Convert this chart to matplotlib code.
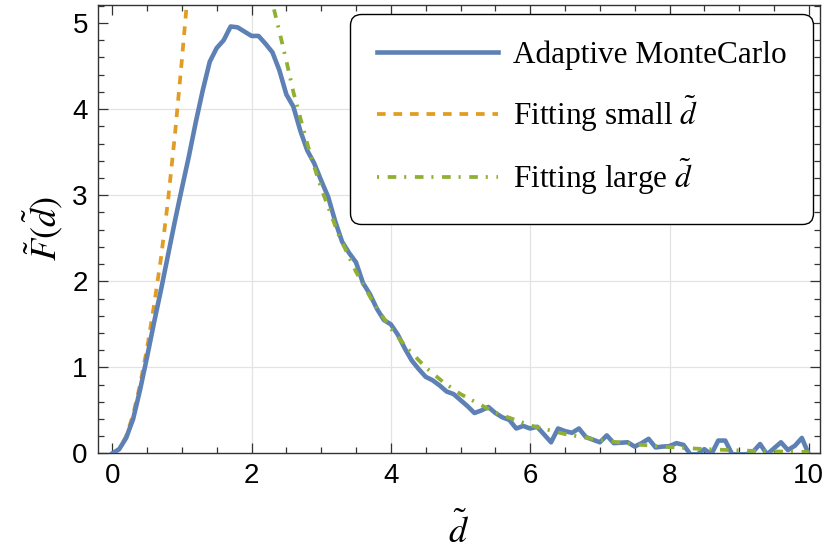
import matplotlib

matplotlib.use("Agg")
import matplotlib.pyplot as plt
from matplotlib.ticker import MultipleLocator

# ── Data ──────────────────────────────────────────────────────────────────────

MC_X = [i / 10 for i in range(101)]
MC_Y = [
    0.00, 0.05, 0.18, 0.40, 0.74, 1.12, 1.52, 1.90, 2.30, 2.70,   # 0.0 - 0.9
    3.08, 3.45, 3.85, 4.22, 4.55, 4.71, 4.80, 4.96, 4.95, 4.90,   # 1.0 - 1.9
    4.85, 4.85, 4.76, 4.66, 4.45, 4.17, 4.03, 3.75, 3.52, 3.37,   # 2.0 - 2.9
    3.17, 2.98, 2.70, 2.46, 2.33, 2.22, 1.98, 1.85, 1.68, 1.55,   # 3.0 - 3.9
    1.50, 1.38, 1.22, 1.08, 0.98, 0.89, 0.85, 0.79, 0.72, 0.69,   # 4.0 - 4.9
    0.62, 0.55, 0.47, 0.50, 0.54, 0.47, 0.42, 0.39, 0.29, 0.32,   # 5.0 - 5.9
    0.29, 0.31, 0.22, 0.13, 0.29, 0.26, 0.24, 0.29, 0.19, 0.16,   # 6.0 - 6.9
    0.13, 0.21, 0.12, 0.125, 0.13, 0.08, 0.12, 0.17, 0.07, 0.08,  # 7.0 - 7.9
    0.085, 0.12, 0.10, -0.01, -0.01, 0.05, -0.01, 0.15, 0.15, -0.01,  # 8.0 - 8.9
    -0.01, -0.01, 0.02, 0.11, -0.01, 0.06, 0.13, 0.04, 0.09, 0.18,    # 9.0 - 9.9
    -0.01,                                                        # 10.0
]

SMALL_X = [0.0, 0.1, 0.2, 0.3, 0.4, 0.5, 0.6, 0.7, 0.8, 0.9, 1.0, 1.1]
SMALL_Y = [0.0, 0.05, 0.20, 0.45, 0.80, 1.22, 1.72, 2.27, 2.93, 3.70, 4.57, 5.50]

LARGE_X = [2.25, 2.4, 2.5, 2.6, 2.7, 2.8, 2.9, 3.0, 3.25, 3.5, 3.75, 4.0, 4.25,
           4.5, 4.75, 5.0, 5.5, 6.0, 6.5, 7.0, 7.5, 8.0, 8.5, 9.0, 9.5, 10.0]
LARGE_Y = [5.40, 4.90, 4.56, 4.20, 3.90, 3.60, 3.33, 3.08, 2.54, 2.11, 1.75, 1.45, 1.21,
           1.00, 0.83, 0.69, 0.474, 0.327, 0.225, 0.155, 0.107, 0.074, 0.051, 0.035, 0.024, 0.017]

LABELS = [
    "Adaptive MonteCarlo",
    r"Fitting small $\tilde{d}$",
    r"Fitting large $\tilde{d}$",
]

GRID_X = [2, 4, 6, 8]
GRID_Y = [1, 2, 3, 4]

# ── Style ──────────────────────────────────────────────────────────────────────

BLUE = "#5E81B5"
ORANGE = "#E19C24"
GREEN = "#8FB032"
FRAME = "#333333"

plt.rcParams["mathtext.fontset"] = "stix"
TICK_FONT = ["Liberation Sans Narrow", "Liberation Sans", "DejaVu Sans"]
SERIF = ["Liberation Serif", "DejaVu Serif"]

fig = plt.figure(figsize=(8.27, 5.51), dpi=100)
ax = fig.add_axes([0.118, 0.177, 0.8735, 0.814])

for gx in GRID_X:
    ax.axvline(gx, color="#e3e3e3", lw=0.9, zorder=0)
for gy in GRID_Y:
    ax.axhline(gy, color="#e3e3e3", lw=0.9, zorder=0)

ax.plot(MC_X, MC_Y, color=BLUE, lw=3.3, label=LABELS[0], zorder=3)
ax.plot(SMALL_X, SMALL_Y, color=ORANGE, lw=2.7, ls=(0, (2.3, 2.1)),
        label=LABELS[1], zorder=2)
ax.plot(LARGE_X, LARGE_Y, color=GREEN, lw=2.7, ls=(0, (0.55, 2.3, 2.3, 2.1)),
        label=LABELS[2], zorder=4)

ax.set_xlim(-0.21, 10.16)
ax.set_ylim(0, 5.21)

ax.xaxis.set_major_locator(MultipleLocator(2))
ax.xaxis.set_minor_locator(MultipleLocator(0.5))
ax.yaxis.set_major_locator(MultipleLocator(1))
ax.yaxis.set_minor_locator(MultipleLocator(0.2))

ax.tick_params(which="both", direction="in", top=True, right=True,
               color=FRAME, width=0.9)
ax.tick_params(which="major", length=7, pad=7)
ax.tick_params(which="minor", length=4)
for spine in ax.spines.values():
    spine.set_color(FRAME)
    spine.set_linewidth(1.0)

for lab in ax.get_xticklabels() + ax.get_yticklabels():
    lab.set_family(TICK_FONT)
    lab.set_fontsize(20)

ax.set_xlabel(r"$\tilde{d}$", fontsize=26, labelpad=16)
ax.set_ylabel(r"$\tilde{F}(\tilde{d})$", fontsize=26, labelpad=5)

leg = ax.legend(
    loc="upper right",
    bbox_to_anchor=(0.990, 0.980),
    borderaxespad=0,
    prop={"family": SERIF, "size": 22.5},
    handlelength=3.9,
    handletextpad=0.45,
    labelspacing=0.73,
    borderpad=0.85,
    frameon=True,
    fancybox=True,
    framealpha=1,
)
leg.get_frame().set_edgecolor("black")
leg.get_frame().set_linewidth(1.0)
leg.get_frame().set_boxstyle("round,pad=0,rounding_size=0.35")

fig.savefig("out.png", dpi=100)
